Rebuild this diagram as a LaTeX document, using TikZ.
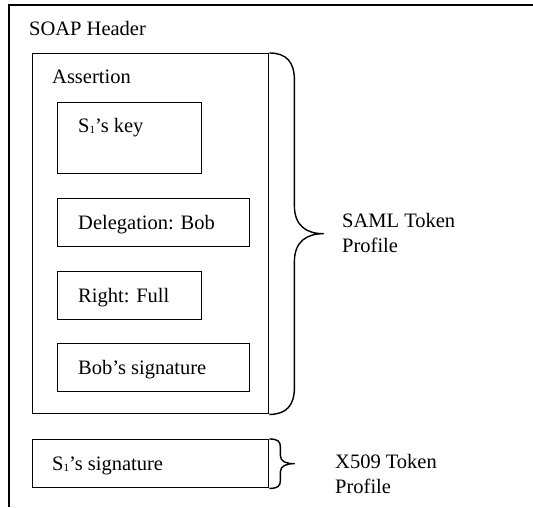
\documentclass[tikz,border=0pt]{standalone}
\usepackage{fontspec}
\setmainfont{Liberation Serif}
\usetikzlibrary{calc}
\tikzset{
  box/.style={draw, line width=1.4pt, rectangle, inner sep=0pt, anchor=north west},
  lbl/.style={inner sep=0pt, anchor=base west, font=\fontsize{20.5}{24.6}\selectfont},
  brace/.style={draw, line width=1.4pt, line join=round}
}
% S with a small lowered index one
\newcommand{\Sone}{S\raisebox{-1.5pt}{\fontsize{11}{11}\selectfont 1}}
\begin{document}
\begin{tikzpicture}[x=1pt, y=-1pt]
  \useasboundingbox (0,0) rectangle (533,507);

  % outer SOAP header frame (open on the right and bottom)
  \draw[line width=1.4pt] (9,507) -- (9,5) -- (533,5);
  \node[lbl] (soap) at (29,35) {SOAP Header};

  % assertion container
  \node[box, minimum width=236pt, minimum height=360pt] (assert) at (32,53) {};
  \node[lbl] (assertlbl) at (52,83) {Assertion};

  % assertion contents
  \node[box, minimum width=144pt, minimum height=71pt] (key) at (57,102) {};
  \node[lbl] (keylbl) at (78,132) {\Sone’s key};

  \node[box, minimum width=192pt, minimum height=48pt] (deleg) at (57,198) {};
  \node[lbl] (deleglbl) at (78,229) {Delegation: Bob};

  \node[box, minimum width=144pt, minimum height=48pt] (right) at (57,271) {};
  \node[lbl] (rightlbl) at (78,302) {Right: Full};

  \node[box, minimum width=192pt, minimum height=48pt] (bobsig) at (57,343) {};
  \node[lbl] (bobsiglbl) at (78,374) {Bob’s signature};

  % X509 signature
  \node[box, minimum width=236pt, minimum height=48pt] (s1sig) at (32,439) {};
  \node[lbl] (s1siglbl) at (52,470) {\Sone’s signature};

  % brace over the assertion
  \coordinate (sTop) at (assert.north east);
  \coordinate (sBot) at (assert.south east);
  \coordinate (sTip) at ($(sTop)!0.5!(sBot) + (54,0)$);
  \draw[brace] (sTop)
    .. controls ($(sTop)+(17,0)$) and ($(sTop)+(25,9)$) .. ($(sTop)+(25,27)$)
    -- ($(sTip)+(-29,-28)$)
    .. controls ($(sTip)+(-29,-8)$) and ($(sTip)+(-17,0)$) .. (sTip)
    .. controls ($(sTip)+(-17,0)$) and ($(sTip)+(-29,8)$) .. ($(sTip)+(-29,28)$)
    -- ($(sBot)+(25,-27)$)
    .. controls ($(sBot)+(25,-9)$) and ($(sBot)+(17,0)$) .. (sBot);
  \node[lbl] (saml) at (342,227) {SAML Token};
  \node[lbl] (samlb) at (342,252) {Profile};

  % brace over the signature
  \coordinate (xTop) at (s1sig.north east);
  \coordinate (xBot) at (s1sig.south east);
  \coordinate (xTip) at ($(xTop)!0.5!(xBot) + (25,0)$);
  \draw[brace] (xTop)
    .. controls ($(xTop)+(8,0)$) and ($(xTop)+(11,2)$) .. ($(xTop)+(11,8)$)
    -- ($(xTip)+(-14,-8)$)
    .. controls ($(xTip)+(-14,-2)$) and ($(xTip)+(-8,0)$) .. (xTip)
    .. controls ($(xTip)+(-8,0)$) and ($(xTip)+(-14,2)$) .. ($(xTip)+(-14,8)$)
    -- ($(xBot)+(11,-8)$)
    .. controls ($(xBot)+(11,-2)$) and ($(xBot)+(8,0)$) .. (xBot);
  \node[lbl] (x509) at (335,468) {X509 Token};
  \node[lbl] (x509b) at (335,493) {Profile};
\end{tikzpicture}
\end{document}
